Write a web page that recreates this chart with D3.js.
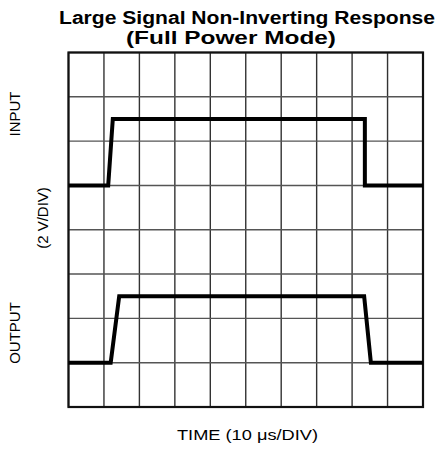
<!DOCTYPE html>
<html>
<head>
<meta charset="utf-8">
<script src="https://cdn.jsdelivr.net/npm/d3@7"></script>
<style>
  body { margin: 0; background: #fff; }
  text { font-family: "Liberation Sans", Arial, sans-serif; fill: #000; }
</style>
</head>
<body>
<svg id="chart" width="439" height="449"></svg>
<script>
/* scope trace, 10 us/div horizontally, 2 V/div vertically */
var timeIn = [0, 11.2, 12.5, 83.6, 83.6, 100];
var voltsIn = [0, 0, 3, 3, 0, 0];
var timeOut = [0, 11.9, 14.3, 83.4, 85.3, 100];
var voltsOut = [0, 0, 3, 3, 0, 0];
var offsetIn = 5, offsetOut = 1; /* baseline of each trace, in divisions */
var voltsPerDiv = 2;

var svg = d3.select("#chart");

var margin = {top: 52.5, right: 16, bottom: 42, left: 68.5},
    width = 439 - margin.left - margin.right,
    height = 449 - margin.top - margin.bottom;

var x = d3.scaleLinear().domain([0, 100]).range([0, width]),
    y = d3.scaleLinear().domain([0, 8]).range([height, 0]);

var g = svg.append("g")
    .attr("transform", "translate(" + margin.left + "," + margin.top + ")");

/* grid */
g.selectAll(".vgrid")
  .data(x.ticks(10))
  .enter().append("line")
    .attr("x1", function(d) { return x(d); })
    .attr("x2", function(d) { return x(d); })
    .attr("y1", 0)
    .attr("y2", height)
    .attr("stroke", "#333")
    .attr("stroke-width", 1.4);

g.selectAll(".hgrid")
  .data(y.ticks(8))
  .enter().append("line")
    .attr("x1", 0)
    .attr("x2", width)
    .attr("y1", function(d) { return y(d); })
    .attr("y2", function(d) { return y(d); })
    .attr("stroke", "#555")
    .attr("stroke-width", 1.4);

g.append("rect")
    .attr("width", width)
    .attr("height", height)
    .attr("fill", "none")
    .attr("stroke", "#111")
    .attr("stroke-width", 2.2);

/* traces */
function trace(times, volts, offset) {
  return d3.line()
      .x(function(d, i) { return x(times[i]); })
      .y(function(d) { return y(offset + d / voltsPerDiv); })(volts);
}

g.append("path")
    .attr("d", trace(timeIn, voltsIn, offsetIn))
    .attr("fill", "none")
    .attr("stroke", "#000")
    .attr("stroke-width", 4);

g.append("path")
    .attr("d", trace(timeOut, voltsOut, offsetOut))
    .attr("fill", "none")
    .attr("stroke", "#000")
    .attr("stroke-width", 4);

/* title */
svg.append("text")
    .attr("x", 247)
    .attr("y", 24)
    .attr("text-anchor", "middle")
    .attr("textLength", 376)
    .attr("lengthAdjust", "spacingAndGlyphs")
    .style("font-size", "18px")
    .style("font-weight", "bold")
    .text("Large Signal Non-Inverting Response");

svg.append("text")
    .attr("x", 231)
    .attr("y", 44)
    .attr("text-anchor", "middle")
    .attr("textLength", 210)
    .attr("lengthAdjust", "spacingAndGlyphs")
    .style("font-size", "18px")
    .style("font-weight", "bold")
    .text("(Full Power Mode)");

/* axis labels */
var sideLabels = [
  {text: "INPUT", x: 15, y: 114},
  {text: "(2 V/DIV)", x: 43, y: 218},
  {text: "OUTPUT", x: 15, y: 333}
];

svg.selectAll(".side")
  .data(sideLabels)
  .enter().append("text")
    .attr("transform", function(d) { return "translate(" + d.x + "," + d.y + ") rotate(-90)"; })
    .attr("text-anchor", "middle")
    .attr("dy", "0.36em")
    .style("font-size", "15px")
    .text(function(d) { return d.text; });

svg.append("text")
    .attr("x", 247.5)
    .attr("y", 440)
    .attr("text-anchor", "middle")
    .attr("textLength", 141)
    .attr("lengthAdjust", "spacingAndGlyphs")
    .style("font-size", "15px")
    .text("TIME (10 \u03bcs/DIV)");
</script>
</body>
</html>
